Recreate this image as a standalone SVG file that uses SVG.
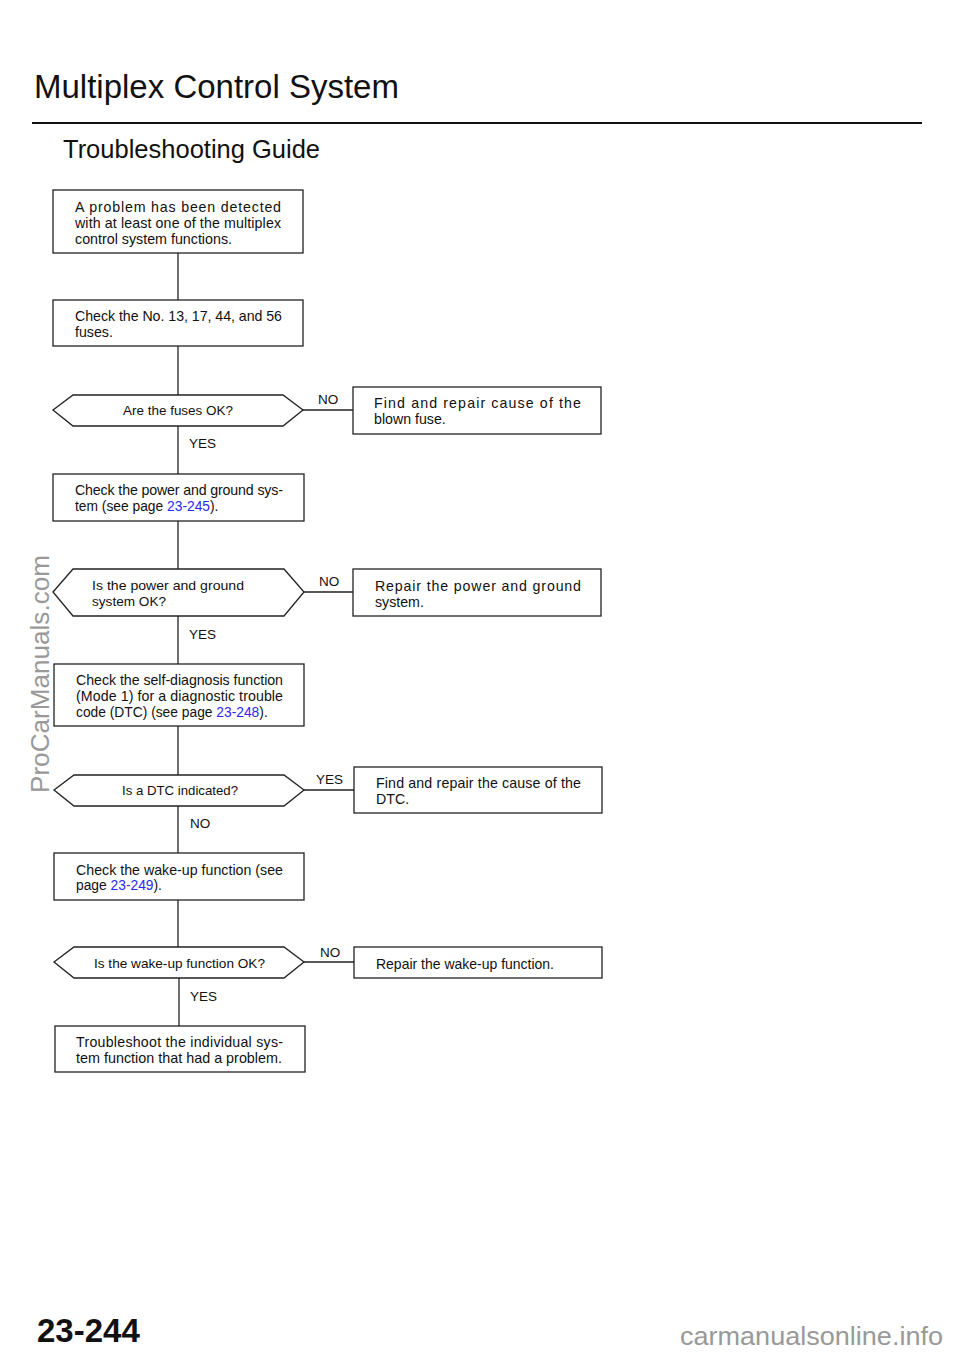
<svg xmlns="http://www.w3.org/2000/svg" width="960" height="1353" viewBox="0 0 960 1353">
<style>
.bg{fill:#fff}
.node{fill:#fff;stroke:#222;stroke-width:1.3}
.conn line{stroke:#222;stroke-width:1.3}
.t{font-family:"Liberation Sans",Arial,sans-serif;font-size:14.2px;fill:#111}
.s{font-size:13.8px}
.d{font-family:"Liberation Sans",Arial,sans-serif;font-size:13.6px;fill:#111}
.lbl{font-family:"Liberation Sans",Arial,sans-serif;font-size:13.5px;fill:#111}
.link{fill:#2a2aee}
.title{font-family:"Liberation Sans",Arial,sans-serif;font-size:33px;fill:#111}
.sub{font-family:"Liberation Sans",Arial,sans-serif;font-size:25.5px;fill:#111}
.wm{font-family:"Liberation Sans",Arial,sans-serif;font-size:26.5px;fill:#999}
</style>
<rect class="bg" x="0" y="0" width="960" height="1353"/>
<text class="title" x="34" y="98">Multiplex Control System</text>
<line x1="32" y1="123" x2="922" y2="123" stroke="#111" stroke-width="2"/>
<text class="sub" x="63" y="158">Troubleshooting Guide</text>

<g class="conn" id="connectors">
<line x1="178" y1="253" x2="178" y2="300"/>
<line x1="178" y1="346" x2="178" y2="395"/>
<line x1="303" y1="410" x2="353" y2="410"/>
<line x1="178" y1="426" x2="178" y2="474"/>
<line x1="178" y1="521" x2="178" y2="569"/>
<line x1="304" y1="592" x2="353" y2="592"/>
<line x1="178" y1="616" x2="178" y2="664"/>
<line x1="178" y1="726" x2="178" y2="775"/>
<line x1="304" y1="790" x2="354" y2="790"/>
<line x1="178" y1="806" x2="178" y2="853"/>
<line x1="178" y1="900" x2="178" y2="947"/>
<line x1="304" y1="962" x2="354" y2="962"/>
<line x1="179" y1="978" x2="179" y2="1026"/>
<text class="lbl" x="318" y="404">NO</text>
<text class="lbl" x="189" y="448">YES</text>
<text class="lbl" x="319" y="586">NO</text>
<text class="lbl" x="189" y="639">YES</text>
<text class="lbl" x="316" y="784">YES</text>
<text class="lbl" x="190" y="828">NO</text>
<text class="lbl" x="320" y="957">NO</text>
<text class="lbl" x="190" y="1001">YES</text>
</g>

<g id="start">
<rect class="node" x="53" y="190" width="250" height="63"/>
<text class="t" x="75" y="212" textLength="206" lengthAdjust="spacing">A problem has been detected</text>
<text class="t" x="75" y="228" textLength="206" lengthAdjust="spacing">with at least one of the multiplex</text>
<text class="t" x="75" y="244" textLength="157" lengthAdjust="spacingAndGlyphs">control system functions.</text>
</g>

<g id="check-fuses">
<rect class="node" x="53" y="300" width="250" height="46"/>
<text class="t" x="75" y="321" textLength="207" lengthAdjust="spacing">Check the No. 13, 17, 44, and 56</text>
<text class="t" x="75" y="337">fuses.</text>
</g>

<g id="q-fuses">
<polygon class="node" points="53,410 73,395 283,395 303,410 283,426 73,426"/>
<text class="d" x="123" y="415" textLength="110" lengthAdjust="spacingAndGlyphs">Are the fuses OK?</text>
</g>

<g id="fix-fuse">
<rect class="node" x="353" y="387" width="248" height="47"/>
<text class="t" x="374" y="408" textLength="207" lengthAdjust="spacing">Find and repair cause of the</text>
<text class="t" x="374" y="424">blown fuse.</text>
</g>

<g id="check-power">
<rect class="node" x="53" y="474" width="251" height="47"/>
<text class="t" x="75" y="495" textLength="208" lengthAdjust="spacing">Check the power and ground sys-</text>
<text class="t s" x="75" y="511">tem (see page <tspan class="link">23-245</tspan>).</text>
</g>

<g id="q-power">
<polygon class="node" points="53,592 73,569 284,569 304,592 284,616 73,616"/>
<text class="d" x="92" y="590" textLength="152" lengthAdjust="spacingAndGlyphs">Is the power and ground</text>
<text class="d" x="92" y="606">system OK?</text>
</g>

<g id="fix-power">
<rect class="node" x="353" y="569" width="248" height="47"/>
<text class="t" x="375" y="591" textLength="206" lengthAdjust="spacing">Repair the power and ground</text>
<text class="t" x="375" y="607">system.</text>
</g>

<g id="check-dtc">
<rect class="node" x="54" y="664" width="250" height="62"/>
<text class="t" x="76" y="685" textLength="207" lengthAdjust="spacing">Check the self-diagnosis function</text>
<text class="t" x="76" y="701" textLength="207" lengthAdjust="spacing">(Mode 1) for a diagnostic trouble</text>
<text class="t s" x="76" y="717">code (DTC) (see page <tspan class="link">23-248</tspan>).</text>
</g>

<g id="q-dtc">
<polygon class="node" points="54,790 74,775 284,775 304,790 284,806 74,806"/>
<text class="d" x="122" y="795" textLength="116" lengthAdjust="spacingAndGlyphs">Is a DTC indicated?</text>
</g>

<g id="fix-dtc">
<rect class="node" x="354" y="767" width="248" height="46"/>
<text class="t" x="376" y="788" textLength="205" lengthAdjust="spacing">Find and repair the cause of the</text>
<text class="t" x="376" y="804">DTC.</text>
</g>

<g id="check-wake">
<rect class="node" x="54" y="853" width="250" height="47"/>
<text class="t" x="76" y="875" textLength="207" lengthAdjust="spacing">Check the wake-up function (see</text>
<text class="t s" x="76" y="890">page <tspan class="link">23-249</tspan>).</text>
</g>

<g id="q-wake">
<polygon class="node" points="54,962 74,947 284,947 304,962 284,978 74,978"/>
<text class="d" x="94" y="968" textLength="171" lengthAdjust="spacingAndGlyphs">Is the wake-up function OK?</text>
</g>

<g id="fix-wake">
<rect class="node" x="354" y="947" width="248" height="31"/>
<text class="t" x="376" y="969" textLength="178" lengthAdjust="spacingAndGlyphs">Repair the wake-up function.</text>
</g>

<g id="troubleshoot">
<rect class="node" x="55" y="1026" width="250" height="46"/>
<text class="t" x="76" y="1047" textLength="207" lengthAdjust="spacing">Troubleshoot the individual sys-</text>
<text class="t" x="76" y="1063" textLength="206" lengthAdjust="spacingAndGlyphs">tem function that had a problem.</text>
</g>

<text class="wm" transform="translate(49,793) rotate(-90)" textLength="238" lengthAdjust="spacingAndGlyphs">ProCarManuals.com</text>
<text x="37" y="1342" font-family="Liberation Sans,Arial,sans-serif" font-size="33" font-weight="bold" fill="#111">23-244</text>
<text class="wm" x="680" y="1345" textLength="263" lengthAdjust="spacingAndGlyphs">carmanualsonline.info</text>
</svg>
